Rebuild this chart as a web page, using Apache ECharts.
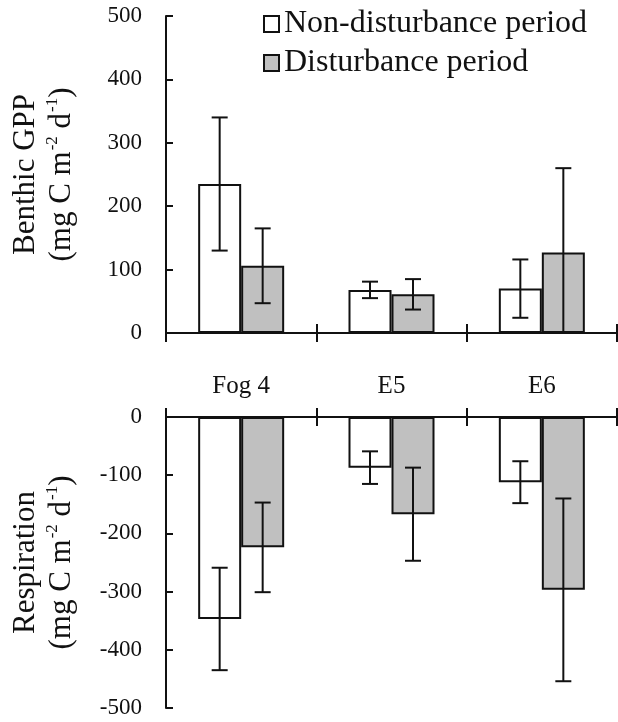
<!DOCTYPE html>
<html lang="en">
  <head>
    <meta charset="UTF-8" />
    <title>Benthic GPP and respiration</title>
    <script src="https://cdnjs.cloudflare.com/ajax/libs/echarts/6.0.0/echarts.min.js"></script>
    <style>
      html,
      body {
        margin: 0;
        background: #fff;
      }
      #chart {
        width: 618px;
        height: 722px;
      }
    </style>
  </head>
  <body>
    <div id="chart"></div>
    <script>
      const categories = ["Fog 4", "E5", "E6"];
      const seriesNames = ["Non-disturbance period", "Disturbance period"];
      // benthic GPP (upper panel)
      const gppNon = [235, 68, 70];
      const gppNonErr = [105, 13, 46];
      const gppDist = [106, 61, 127];
      const gppDistErr = [59, 24, 133];
      // respiration (lower panel)
      const respNon = [-347, -87, -112];
      const respNonErr = [88, 28, 36];
      const respDist = [-224, -167, -297];
      const respDistErr = [77, 80, 157];

      const FONT = "Liberation Serif";
      const INK = "#111";
      const GREY = "#c0c0c0";
      const BAR_W = 43;

      const chart = echarts.init(document.getElementById("chart"));

      // error bar drawn on top of each bar, shifted to the bar's centre
      const errSeries = (name, means, errs, xIdx, yIdx, shift) => ({
        type: "custom",
        name: name + " err",
        xAxisIndex: xIdx,
        yAxisIndex: yIdx,
        clip: true,
        z: 5,
        silent: true,
        data: means.map((m, i) => [i, m, errs[i]]),
        encode: { x: 0, y: 1 },
        renderItem: (params, api) => {
          const i = api.value(0);
          const m = api.value(1);
          const e = api.value(2);
          const hi = api.coord([i, m + e]);
          const lo = api.coord([i, m - e]);
          const x = hi[0] + shift;
          const cap = 8;
          const st = { stroke: INK, lineWidth: 2 };
          return {
            type: "group",
            children: [
              { type: "line", shape: { x1: x, y1: hi[1], x2: x, y2: lo[1] }, style: st },
              { type: "line", shape: { x1: x - cap, y1: hi[1], x2: x + cap, y2: hi[1] }, style: st },
              { type: "line", shape: { x1: x - cap, y1: lo[1], x2: x + cap, y2: lo[1] }, style: st },
            ],
          };
        },
      });

      const barSeries = (name, values, fill, xIdx, yIdx) => ({
        type: "bar",
        name: name,
        xAxisIndex: xIdx,
        yAxisIndex: yIdx,
        barWidth: BAR_W,
        barGap: "0%",
        data: values,
        itemStyle: { color: fill, borderColor: INK, borderWidth: 2 },
      });

      const titleRich = {
        t: { fontFamily: FONT, fontSize: 31, color: INK, lineHeight: 36 },
        s: { fontFamily: FONT, fontSize: 17, color: INK, lineHeight: 36, verticalAlign: "top", padding: [0, 0, 0, 1] },
      };

      // two category axes per grid so the boundary ticks cross the axis line
      const xAxisBase = (grid, pos, tickInside, showLabel) => ({
        type: "category",
        gridIndex: grid,
        position: pos,
        data: categories,
        axisLine: { show: true, onZero: false, lineStyle: { color: INK, width: 2 } },
        axisTick: { show: true, inside: tickInside, length: 9, lineStyle: { color: INK, width: 2 } },
        axisLabel: { show: showLabel, fontFamily: FONT, fontSize: 25, color: INK, margin: 18 },
        splitLine: { show: false },
      });

      const yAxisBase = (grid, min, max, name) => ({
        type: "value",
        gridIndex: grid,
        min: min,
        max: max,
        interval: 100,
        name: name,
        nameLocation: "middle",
        nameRotate: 90,
        nameGap: 86,
        nameTextStyle: { rich: titleRich },
        axisLine: { show: true, onZero: false, lineStyle: { color: INK, width: 2 } },
        axisTick: { show: true, inside: true, length: 7, lineStyle: { color: INK, width: 2 } },
        axisLabel: { fontFamily: FONT, fontSize: 23, color: INK, margin: 24 },
        splitLine: { show: false },
      });

      const option = {
        backgroundColor: "#fff",
        animation: false,
        legend: {
          orient: "vertical",
          left: 263,
          top: 8,
          padding: 0,
          data: seriesNames,
          icon: "rect",
          itemWidth: 15,
          itemHeight: 16,
          itemGap: 7,
          textStyle: { fontFamily: FONT, fontSize: 32, color: INK, lineHeight: 31 },
        },
        grid: [
          { left: 166, top: 16, width: 451, height: 317 },
          { left: 166, top: 417, width: 451, height: 291 },
        ],
        xAxis: [
          xAxisBase(0, "bottom", false, false),
          xAxisBase(0, "bottom", true, false),
          xAxisBase(1, "top", false, true),
          xAxisBase(1, "top", true, false),
        ],
        yAxis: [
          yAxisBase(0, 0, 500, "{t|Benthic GPP}\n{t|(mg C m}{s|-2}{t| d}{s|-1}{t|)}"),
          yAxisBase(1, -500, 0, "{t|Respiration}\n{t|(mg C m}{s|-2}{t| d}{s|-1}{t|)}"),
        ],
        series: [
          barSeries(seriesNames[0], gppNon, "#fff", 0, 0),
          barSeries(seriesNames[1], gppDist, GREY, 0, 0),
          barSeries(seriesNames[0], respNon, "#fff", 2, 1),
          barSeries(seriesNames[1], respDist, GREY, 2, 1),
          errSeries(seriesNames[0], gppNon, gppNonErr, 0, 0, -BAR_W / 2),
          errSeries(seriesNames[1], gppDist, gppDistErr, 0, 0, BAR_W / 2),
          errSeries(seriesNames[0], respNon, respNonErr, 2, 1, -BAR_W / 2),
          errSeries(seriesNames[1], respDist, respDistErr, 2, 1, BAR_W / 2),
        ],
      };

      chart.setOption(option);
    </script>
  </body>
</html>
